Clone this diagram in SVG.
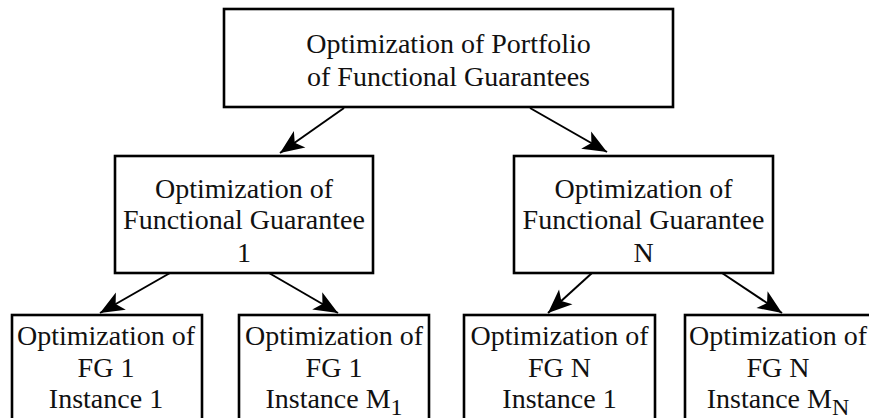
<svg xmlns="http://www.w3.org/2000/svg" width="869" height="418" viewBox="0 0 869 418">
<style>
.box{fill:#fff;stroke:#000;stroke-width:2.6}
.t{font-size:28px;fill:#111;text-anchor:middle}
.edge{stroke:#000;stroke-width:2;fill:none}
</style>
<defs>
<marker id="ah" markerUnits="userSpaceOnUse" viewBox="-26 -12 28 24" refX="0" refY="0" markerWidth="28" markerHeight="24" orient="auto">
<path d="M0,0 L-24,-10 L-18,0 L-24,10 Z" fill="#000"/>
</marker>
</defs>
<rect width="869" height="418" fill="#fff"/>
<g id="connectors">
<line class="edge" marker-end="url(#ah)" x1="344" y1="108" x2="280" y2="153"/>
<line class="edge" marker-end="url(#ah)" x1="530" y1="108" x2="607" y2="152"/>
<line class="edge" marker-end="url(#ah)" x1="170" y1="273" x2="100" y2="313"/>
<line class="edge" marker-end="url(#ah)" x1="269" y1="273" x2="338" y2="313"/>
<line class="edge" marker-end="url(#ah)" x1="592" y1="273" x2="548" y2="313"/>
<line class="edge" marker-end="url(#ah)" x1="722" y1="273" x2="782" y2="313"/>
</g>
<g font-family="Liberation Serif, Times New Roman, serif">
<g id="top">
<rect class="box" x="224" y="9" width="449" height="98"/>
<text class="t" x="448.5" y="53">Optimization of Portfolio</text>
<text class="t" x="448.5" y="86">of Functional Guarantees</text>
</g>
<g id="fg1">
<rect class="box" x="115" y="156" width="258" height="117"/>
<text class="t" x="244" y="198">Optimization of</text>
<text class="t" x="244" y="229">Functional Guarantee</text>
<text class="t" x="244" y="262">1</text>
</g>
<g id="fgN">
<rect class="box" x="514" y="156" width="259" height="117"/>
<text class="t" x="643.5" y="198">Optimization of</text>
<text class="t" x="643.5" y="229">Functional Guarantee</text>
<text class="t" x="643.5" y="262">N</text>
</g>
<g id="fg1i1">
<rect class="box" x="12" y="315" width="190" height="120"/>
<text class="t" x="106" y="345">Optimization of</text>
<text class="t" x="106" y="377">FG 1</text>
<text class="t" x="106" y="408">Instance 1</text>
</g>
<g id="fg1iM">
<rect class="box" x="239" y="315" width="190" height="120"/>
<text class="t" x="334" y="345">Optimization of</text>
<text class="t" x="334" y="377">FG 1</text>
<text class="t" x="334" y="408">Instance M<tspan font-size="24" dy="7">1</tspan></text>
</g>
<g id="fgNi1">
<rect class="box" x="464" y="315" width="191" height="120"/>
<text class="t" x="559.5" y="345">Optimization of</text>
<text class="t" x="559.5" y="377">FG N</text>
<text class="t" x="559.5" y="408">Instance 1</text>
</g>
<g id="fgNiM">
<rect class="box" x="685" y="315" width="200" height="120"/>
<text class="t" x="778" y="345">Optimization of</text>
<text class="t" x="778" y="377">FG N</text>
<text class="t" x="778" y="408">Instance M<tspan font-size="24" dy="7">N</tspan></text>
</g>
</g>
</svg>
